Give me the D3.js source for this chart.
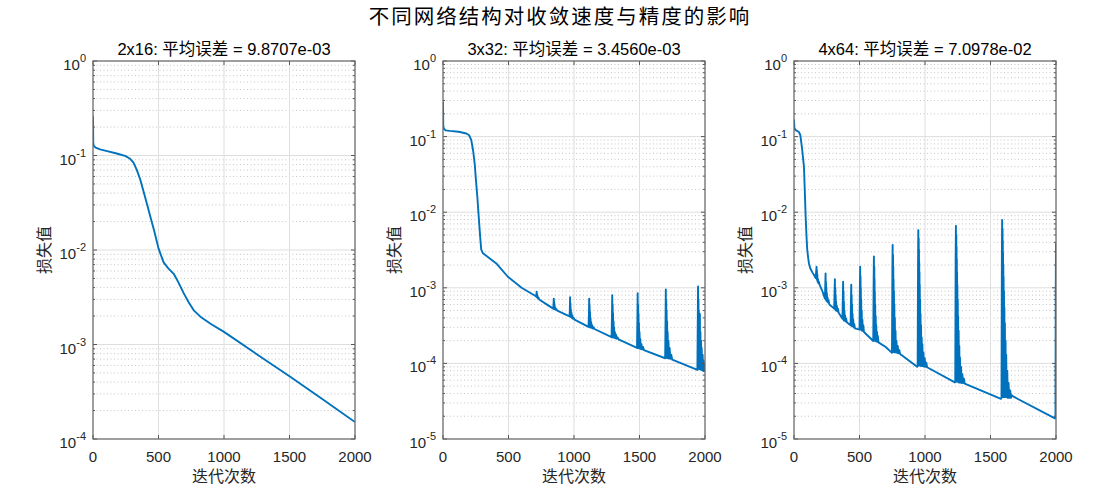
<!DOCTYPE html>
<html>
<head>
<meta charset="utf-8">
<script src="https://cdn.jsdelivr.net/npm/d3@7"></script>
<style>
  body { margin: 0; background: #fff; }
  svg text { fill: #262626; }
</style>
</head>
<body>
<div id="chart"></div>
<script>
// loss curves, [iteration, loss]
var curve2x16 = [[0,0.26],[2,0.135],[5,0.127],[20,0.121],[54,0.116],[100,0.112],[181,0.105],[245,0.099],[280,0.093],
  [309,0.084],[335,0.07],[360,0.056],[385,0.042],[411,0.031],[440,0.022],[467,0.016],[500,0.0104],[539,0.0074],
  [575,0.0064],[616,0.0056],[650,0.0046],[692,0.0035],[730,0.0028],[769,0.0023],[820,0.00197],[900,0.00165],
  [1000,0.00136],[1250,0.00079],[1500,0.000462],[1750,0.000265],[2000,0.000151]];

var curve3x32 = [[0,0.29],[2,0.14],[6,0.127],[20,0.121],[51,0.119],[120,0.116],[178,0.110],[200,0.104],[216,0.090],
  [230,0.065],[242,0.044],[252,0.026],[262,0.016],[272,0.009],[280,0.0058],[287,0.0040],[292,0.0032],[305,0.00286],
  [350,0.0025],[407,0.0021],[495,0.0014],[600,0.00100],[700,0.00079],
  [710,0.00077],[713,0.00082],[715,0.00089],[717,0.00075],[718,0.00082],[720,0.00074],[722,0.00078],[725,0.00072],
  [729,0.00074],[734,0.0007],
  [800,0.00059],[842,0.00053],
  [844,0.00062],[846,0.00072],[848,0.00053],[849,0.00065],[851,0.00052],[852,0.00058],[854,0.00052],[857,0.00055],
  [861,0.00051],[866,0.00052],[872,0.0005],
  [966,0.00042],[968,0.0005],[970,0.00075],[972,0.00042],[973,0.00062],[975,0.00041],[976,0.00052],[978,0.00041],
  [980,0.00047],[983,0.0004],[987,0.00043],[992,0.00039],[998,0.0004],[1004,0.00038],
  [1111,0.000305],[1114,0.00045],[1116,0.00072],[1118,0.0003],[1119,0.00058],[1121,0.0003],[1122,0.00048],[1124,0.0003],
  [1126,0.0004],[1128,0.000298],[1131,0.00035],[1134,0.000295],[1138,0.00032],[1143,0.00029],[1150,0.0003],[1156,0.000285],
  [1287,0.000222],[1290,0.00045],[1292,0.0008],[1294,0.000222],[1295,0.0006],[1297,0.00022],[1298,0.00046],[1300,0.00022],
  [1302,0.00036],[1304,0.00022],[1306,0.0003],[1309,0.000218],[1312,0.00026],[1316,0.000215],[1321,0.00024],
  [1327,0.000212],[1334,0.00022],[1340,0.000208],
  [1481,0.00016],[1484,0.0004],[1486,0.00085],[1488,0.00016],[1489,0.0006],[1491,0.00016],[1492,0.00045],[1494,0.00016],
  [1496,0.00034],[1498,0.000158],[1500,0.00026],[1503,0.000157],[1506,0.00021],[1510,0.000155],[1515,0.00018],
  [1520,0.000153],[1527,0.000165],[1534,0.00015],
  [1696,0.000117],[1699,0.0004],[1701,0.00095],[1703,0.00012],[1704,0.00068],[1706,0.00012],[1707,0.0005],[1709,0.000118],
  [1711,0.00036],[1713,0.000118],[1715,0.00026],[1718,0.000117],[1721,0.0002],[1725,0.000116],[1730,0.00016],
  [1735,0.000115],[1742,0.00013],[1750,0.000112],
  [1942,0.000082],[1945,0.0004],[1947,0.00104],[1949,0.000085],[1950,0.0007],[1952,0.000085],[1953,0.0005],[1955,0.000085],
  [1957,0.00032],[1959,0.000084],[1961,0.00045],[1963,0.000084],[1965,0.00026],[1967,0.000083],[1970,0.0002],
  [1972,0.000082],[1975,0.00016],[1978,0.000081],[1982,0.00013],[1985,0.00008],[1989,0.00011],[1992,0.000079],
  [1996,0.0001],[2000,0.000078]];

var curve4x64 = [[0,0.17],[3,0.13],[12,0.122],[38,0.115],[48,0.105],[55,0.085],[63,0.066],[70,0.05],[76,0.04],
  [82,0.02],[89,0.0087],[95,0.005],[101,0.0032],[108,0.0025],[114,0.0021],[125,0.0018],[140,0.0016],[155,0.00145],
  [165,0.00135],[169,0.0016],[172,0.0019],[174,0.0013],[175,0.0017],[177,0.00125],[178,0.0015],[180,0.0012],
  [183,0.0013],[186,0.00115],[190,0.0012],[195,0.0011],[215,0.00092],
  [236,0.00072],[239,0.0011],[241,0.00155],[243,0.0007],[244,0.0012],[246,0.00068],[247,0.001],[249,0.00067],
  [251,0.00085],[253,0.00066],[256,0.00075],[260,0.00064],[264,0.00068],[270,0.0006],
  [307,0.00053],[310,0.0009],[312,0.0013],[314,0.00052],[315,0.001],[317,0.00051],[318,0.0008],[320,0.0005],
  [322,0.00065],[324,0.0005],[327,0.00058],[331,0.00049],[335,0.00053],[340,0.00047],
  [370,0.00039],[373,0.0008],[375,0.0012],[377,0.00038],[378,0.0009],[380,0.00037],[381,0.00065],[383,0.00037],
  [385,0.0005],[387,0.00037],[390,0.00043],[394,0.00036],[398,0.00039],[403,0.00035],
  [432,0.00032],[435,0.0007],[437,0.0011],[439,0.00032],[440,0.0008],[442,0.00031],[443,0.0006],[445,0.00031],
  [447,0.00045],[449,0.00031],[452,0.00038],[456,0.0003],[460,0.00033],[465,0.00029],
  [500,0.00028],[503,0.0010],[505,0.0019],[507,0.00028],[508,0.0014],[509,0.00028],[510,0.0010],[512,0.00028],
  [513,0.0007],[515,0.00028],[517,0.0005],[519,0.00027],[522,0.00038],[525,0.00027],[529,0.00032],[534,0.00026],
  [605,0.000198],[608,0.0012],[610,0.0026],[612,0.0002],[613,0.0019],[614,0.0002],[615,0.0013],[616,0.0002],
  [617,0.0009],[619,0.0002],[620,0.0006],[622,0.000198],[624,0.00042],[626,0.000196],[628,0.00032],[631,0.000195],
  [634,0.00026],[637,0.000193],[640,0.00023],[645,0.00019],[700,0.000165],
  [748,0.000138],[751,0.0018],[753,0.0037],[755,0.000142],[756,0.0027],[757,0.000142],[758,0.0019],[759,0.000142],
  [760,0.0013],[762,0.000141],[763,0.0009],[765,0.00014],[766,0.0006],[768,0.00014],[770,0.0004],[772,0.00014],
  [775,0.00027],[778,0.00014],[782,0.0002],[786,0.000138],[792,0.00017],[797,0.000136],[804,0.00015],[810,0.000133],
  [940,0.000090],[944,0.000092],[947,0.0022],[949,0.0058],[951,0.000095],[952,0.0045],[953,0.000095],[954,0.0032],
  [955,0.000095],[956,0.0022],[957,0.000094],[958,0.0016],[959,0.000094],[960,0.0011],[962,0.000094],[963,0.0007],
  [965,0.000093],[966,0.00045],[968,0.000093],[970,0.00032],[972,0.000093],[975,0.00022],[977,0.000092],[980,0.00018],
  [983,0.000092],[988,0.00014],[992,0.000091],[998,0.000117],[1003,0.00009],[1010,0.000102],[1016,0.000089],
  [1228,0.000056],[1231,0.000057],[1234,0.0025],[1236,0.0066],[1238,0.000058],[1239,0.005],[1240,0.000058],
  [1241,0.0035],[1242,0.000058],[1243,0.0024],[1244,0.000057],[1245,0.0016],[1246,0.000057],[1247,0.0011],
  [1249,0.000057],[1250,0.0007],[1252,0.000057],[1253,0.00042],[1255,0.000057],[1257,0.00027],[1259,0.000056],
  [1262,0.00017],[1264,0.000056],[1267,0.00012],[1270,0.000056],[1275,0.00009],[1279,0.000055],[1285,0.000072],
  [1290,0.000055],[1297,0.000063],[1303,0.000054],
  [1580,0.000034],[1584,0.000035],[1587,0.003],[1589,0.0079],[1591,0.000036],[1592,0.006],[1593,0.000036],
  [1594,0.0042],[1595,0.000036],[1596,0.0029],[1597,0.000036],[1598,0.002],[1599,0.000036],[1600,0.0014],
  [1602,0.000036],[1603,0.0009],[1605,0.000036],[1606,0.00055],[1608,0.000036],[1610,0.00034],[1612,0.000036],
  [1615,0.0002],[1617,0.000036],[1620,0.00013],[1623,0.000036],[1628,0.00008],[1632,0.000035],[1638,0.000055],
  [1643,0.000035],[1650,0.000044],[1656,0.000035],[1662,0.000038],[1680,0.000036],
  [1992,0.0000187],[1996,0.000019],[1998,0.0009],[2000,0.0039]];

var panelNames = ["2x16", "3x32", "4x64"];
var meanErrors = ["9.8707e-03", "3.4560e-03", "7.0978e-02"];
var yMinExp = [-4, -5, -5];
var xTicks = [0, 500, 1000, 1500, 2000];
var curves = [curve2x16, curve3x32, curve4x64];

var W = 1120, H = 486;
var panelLeft = [93, 443, 794];
var pw = 262, plotTop = 61, plotBottom = 439;
var blue = "#0072BD";
var latin = "'Liberation Sans', Arial, Helvetica, sans-serif";
var cjk = "'Liberation Sans', 'Noto Sans CJK SC', sans-serif";
var cjkOnly = "'Noto Sans CJK SC', sans-serif";

var svg = d3.select("#chart").append("svg")
    .attr("width", W)
    .attr("height", H);

svg.append("text")
    .attr("x", 560).attr("y", 24)
    .attr("text-anchor", "middle")
    .style("font-family", cjkOnly)
    .style("font-size", "20.5px")
    .style("letter-spacing", "2px")
    .style("fill", "#000")
    .text("不同网络结构对收敛速度与精度的影响");

panelNames.forEach(function(name, i) {
    var x0 = panelLeft[i];
    var x = d3.scaleLinear().domain([0, 2000]).range([x0, x0 + pw]);
    var y = d3.scaleLog().domain([Math.pow(10, yMinExp[i]), 1]).range([plotBottom, plotTop]);
    var g = svg.append("g");

    // decade and minor grid
    var decades = d3.range(yMinExp[i], 1);
    var minors = [];
    decades.forEach(function(e) {
        if (e < 0) for (var k = 2; k <= 9; k++) minors.push(k * Math.pow(10, e));
    });
    g.selectAll(".minor").data(minors).join("line")
        .attr("x1", x0).attr("x2", x0 + pw)
        .attr("y1", d => y(d)).attr("y2", d => y(d))
        .attr("stroke", "#b8b8b8").attr("stroke-width", 0.8)
        .attr("stroke-dasharray", "1,2.5");
    g.selectAll(".ymaj").data(decades).join("line")
        .attr("x1", x0).attr("x2", x0 + pw)
        .attr("y1", d => y(Math.pow(10, d))).attr("y2", d => y(Math.pow(10, d)))
        .attr("stroke", "#dedede").attr("stroke-width", 1);
    g.selectAll(".xmaj").data(xTicks).join("line")
        .attr("x1", d => x(d)).attr("x2", d => x(d))
        .attr("y1", plotTop).attr("y2", plotBottom)
        .attr("stroke", "#dedede").attr("stroke-width", 1);

    // curve
    var clipId = "clip" + i;
    svg.append("clipPath").attr("id", clipId).append("rect")
        .attr("x", x0).attr("y", plotTop).attr("width", pw).attr("height", plotBottom - plotTop);
    var line = d3.line().x(d => x(d[0])).y(d => y(d[1]));
    g.append("path")
        .datum(curves[i])
        .attr("clip-path", "url(#" + clipId + ")")
        .attr("d", line)
        .attr("fill", "none")
        .attr("stroke", blue)
        .attr("stroke-width", 1.9)
        .attr("stroke-linejoin", "round");

    // ticks inside, all four sides
    var tk = g.append("g").attr("stroke", "#555").attr("stroke-width", 1);
    xTicks.forEach(function(t) {
        tk.append("line").attr("x1", x(t)).attr("x2", x(t)).attr("y1", plotBottom).attr("y2", plotBottom - 4);
        tk.append("line").attr("x1", x(t)).attr("x2", x(t)).attr("y1", plotTop).attr("y2", plotTop + 4);
    });
    decades.forEach(function(e) {
        var yy = y(Math.pow(10, e));
        tk.append("line").attr("x1", x0).attr("x2", x0 + 4).attr("y1", yy).attr("y2", yy);
        tk.append("line").attr("x1", x0 + pw).attr("x2", x0 + pw - 4).attr("y1", yy).attr("y2", yy);
    });
    minors.forEach(function(m) {
        var yy = y(m);
        tk.append("line").attr("x1", x0).attr("x2", x0 + 2).attr("y1", yy).attr("y2", yy);
        tk.append("line").attr("x1", x0 + pw).attr("x2", x0 + pw - 2).attr("y1", yy).attr("y2", yy);
    });

    // box
    g.append("rect")
        .attr("x", x0).attr("y", plotTop).attr("width", pw).attr("height", plotBottom - plotTop)
        .attr("fill", "none").attr("stroke", "#6a6a6a").attr("stroke-width", 1.2);

    // x tick labels
    g.selectAll(".xl").data(xTicks).join("text")
        .attr("x", d => x(d)).attr("y", plotBottom + 23)
        .attr("text-anchor", "middle")
        .style("font-family", latin).style("font-size", "15px")
        .text(d => d);

    // y tick labels 10^e
    decades.forEach(function(e) {
        var yy = y(Math.pow(10, e));
        var t = g.append("text")
            .attr("x", x0 - 7).attr("y", yy + 9)
            .attr("text-anchor", "end")
            .style("font-family", latin).style("font-size", "15px");
        t.append("tspan").text("10");
        t.append("tspan").attr("dy", -8).style("font-size", "11px").text(e);
    });

    // titles
    g.append("text")
        .attr("x", x0 + pw / 2).attr("y", 55)
        .attr("text-anchor", "middle")
        .style("font-family", cjk).style("font-size", "16.5px")
        .style("fill", "#000")
        .text(name + ": 平均误差 = " + meanErrors[i]);
    g.append("text")
        .attr("x", x0 + pw / 2).attr("y", 482)
        .attr("text-anchor", "middle")
        .style("font-family", cjkOnly).style("font-size", "16px")
        .text("迭代次数");
    g.append("text")
        .attr("transform", "translate(" + (x0 - 50) + "," + ((plotTop + plotBottom) / 2) + ") rotate(-90)")
        .attr("text-anchor", "middle")
        .attr("dominant-baseline", "central")
        .style("font-family", cjkOnly).style("font-size", "16px")
        .text("损失值");
});
</script>
</body>
</html>
